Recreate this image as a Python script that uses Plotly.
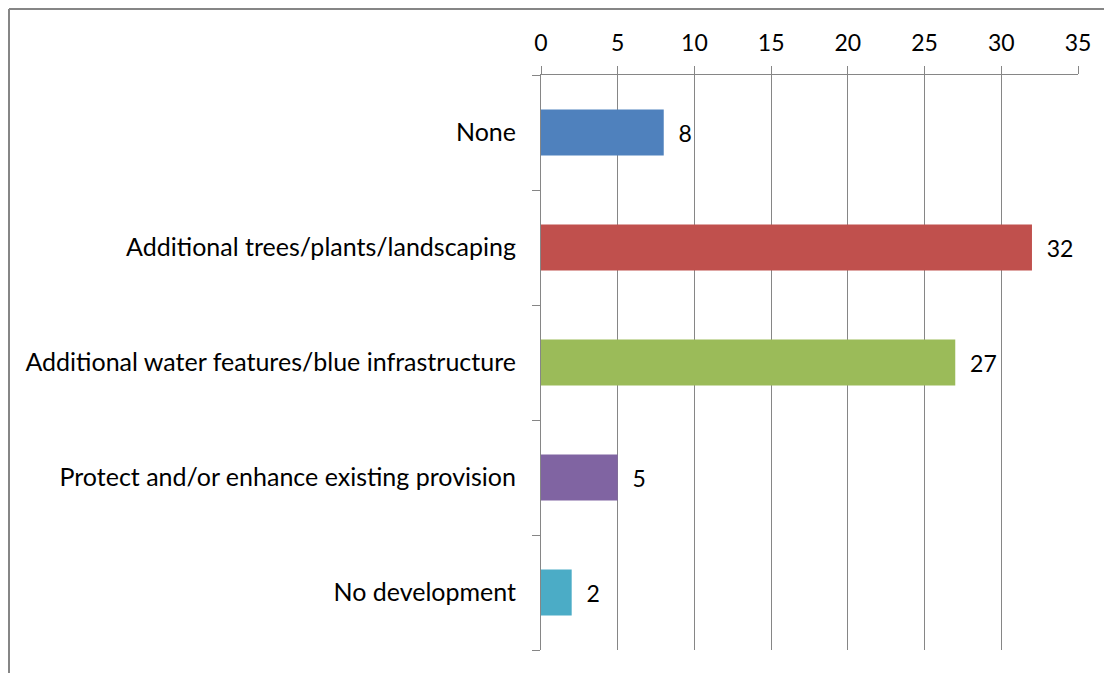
import plotly.graph_objects as go

categories = [
    "None",
    "Additional trees/plants/landscaping",
    "Additional water features/blue infrastructure",
    "Protect and/or enhance existing provision",
    "No development",
]
values = [8, 32, 27, 5, 2]
colors = ["#4F81BD", "#C0504D", "#9BBB59", "#8064A2", "#4BACC6"]
x_ticks = [0, 5, 10, 15, 20, 25, 30, 35]

# page body adds 8px margin, so figure coords are offset by 8 from the screenshot
W, H = 1112, 673
L, R, T, B = 533, 42, 67, 31
pw, ph = W - L - R, H - T - B

fig = go.Figure(go.Bar(
    y=categories,
    x=values,
    orientation="h",
    marker=dict(color=colors, line=dict(width=0)),
    width=0.4,
    text=values,
    texttemplate="  %{x}",
    textposition="outside",
    textfont=dict(size=23, color="black"),
    cliponaxis=False,
))

grid = "#868686"
fig.update_layout(
    width=W, height=H,
    margin=dict(l=L, r=R, t=T, b=B),
    paper_bgcolor="white", plot_bgcolor="white",
    font=dict(family="Lato, Carlito, sans-serif", size=24, color="black"),
    showlegend=False,
    xaxis=dict(
        side="top", range=[0, 35], tickvals=x_ticks,
        showgrid=True, gridcolor=grid, gridwidth=1,
        showline=True, linecolor=grid, linewidth=1,
        ticks="outside", ticklen=8, tickcolor=grid,
        zeroline=False, tickfont=dict(size=23), ticklabelstandoff=6,
    ),
    yaxis=dict(
        categoryorder="array", categoryarray=categories[::-1],
        showline=True, linecolor=grid, linewidth=1,
        ticks="outside", ticklen=8, tickcolor=grid, tickson="boundaries",
        showgrid=False, tickfont=dict(size=25), ticklabelstandoff=19,
    ),
)

# outer chart border (left and top edges visible)
x0 = (1 - L) / pw
y0 = (H - B - 1) / ph
fig.add_shape(type="line", xref="paper", yref="paper", x0=x0, x1=x0, y0=y0, y1=-0.1,
              line=dict(color="#868686", width=2))
fig.add_shape(type="line", xref="paper", yref="paper", x0=x0, x1=(W - L) / pw, y0=y0, y1=y0,
              line=dict(color="#868686", width=2))

fig.write_html("out.html")
